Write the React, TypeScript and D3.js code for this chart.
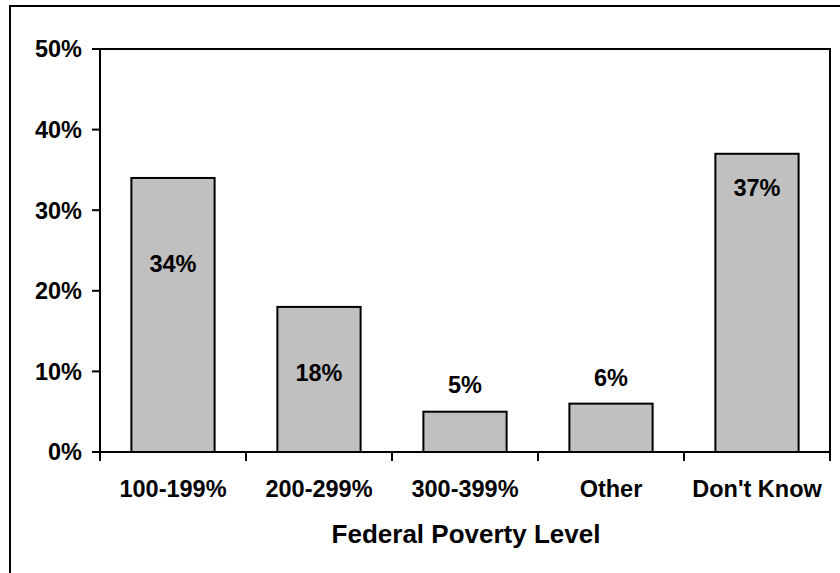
import React from "react";
import * as d3 from "d3";

// Share of respondents by federal poverty level
const categories: string[] = ["100-199%", "200-299%", "300-399%", "Other", "Don't Know"];
const shares: number[] = [34, 18, 5, 6, 37];
const valueLabels: string[] = ["34%", "18%", "5%", "6%", "37%"];
const yTicks: number[] = [0, 10, 20, 30, 40, 50];
const xTitle = "Federal Poverty Level";

const W = 840;
const H = 573;
const plot = { left: 100, right: 830, top: 49, bottom: 452 };
const font = "'Liberation Sans', Arial, Helvetica, sans-serif";
// baseline offset of each value label, measured from the top of its bar
const labelDy = [94, 74, -19, -18, 42];

export default function App() {
  const x = d3.scaleBand<string>().domain(categories).range([plot.left, plot.right]).padding(0);
  const y = d3.scaleLinear().domain([0, 50]).range([plot.bottom, plot.top]);
  const bw = x.bandwidth();
  const barW = bw * 0.57;
  const tickEdges = categories.map((c) => x(c) as number).concat([plot.right]);

  return (
    <svg
      width={W}
      height={H}
      style={{ position: "absolute", left: 0, top: 0, background: "#fff" }}
      fontFamily={font}
      fontWeight="bold"
    >
      <rect x={10} y={6} width={W + 20} height={H + 20} fill="#fff" stroke="#000" strokeWidth={2} />
      {/* plot frame */}
      <rect
        x={plot.left}
        y={plot.top}
        width={plot.right - plot.left}
        height={plot.bottom - plot.top}
        fill="#fff"
        stroke="#000"
        strokeWidth={2}
      />
      {/* bars */}
      {categories.map((c, i) => (
        <rect
          key={c}
          x={(x(c) as number) + (bw - barW) / 2}
          y={y(shares[i])}
          width={barW}
          height={y(0) - y(shares[i])}
          fill="#c0c0c0"
          stroke="#000"
          strokeWidth={2}
        />
      ))}
      {/* axes */}
      <line x1={plot.left} x2={plot.right} y1={y(0)} y2={y(0)} stroke="#000" strokeWidth={2} />
      <line x1={plot.left} x2={plot.left} y1={plot.top} y2={plot.bottom} stroke="#000" strokeWidth={2} />
      {yTicks.map((t) => (
        <g key={t}>
          <line x1={plot.left - 8} x2={plot.left} y1={y(t)} y2={y(t)} stroke="#000" strokeWidth={2} />
          <text x={82} y={y(t)} dy="0.36em" textAnchor="end" fontSize={23.5}>
            {t}%
          </text>
        </g>
      ))}
      {tickEdges.map((tx, i) => (
        <line key={i} x1={tx} x2={tx} y1={y(0)} y2={y(0) + 9} stroke="#000" strokeWidth={2} />
      ))}
      {categories.map((c) => (
        <text key={c} x={(x(c) as number) + bw / 2} y={497} textAnchor="middle" fontSize={23.5}>
          {c}
        </text>
      ))}
      {/* value labels */}
      {categories.map((c, i) => (
        <text
          key={c}
          x={(x(c) as number) + bw / 2}
          y={y(shares[i]) + labelDy[i]}
          textAnchor="middle"
          fontSize={23.5}
        >
          {valueLabels[i]}
        </text>
      ))}
      <text x={(plot.left + plot.right) / 2 + 1} y={543} textAnchor="middle" fontSize={26}>
        {xTitle}
      </text>
    </svg>
  );
}
